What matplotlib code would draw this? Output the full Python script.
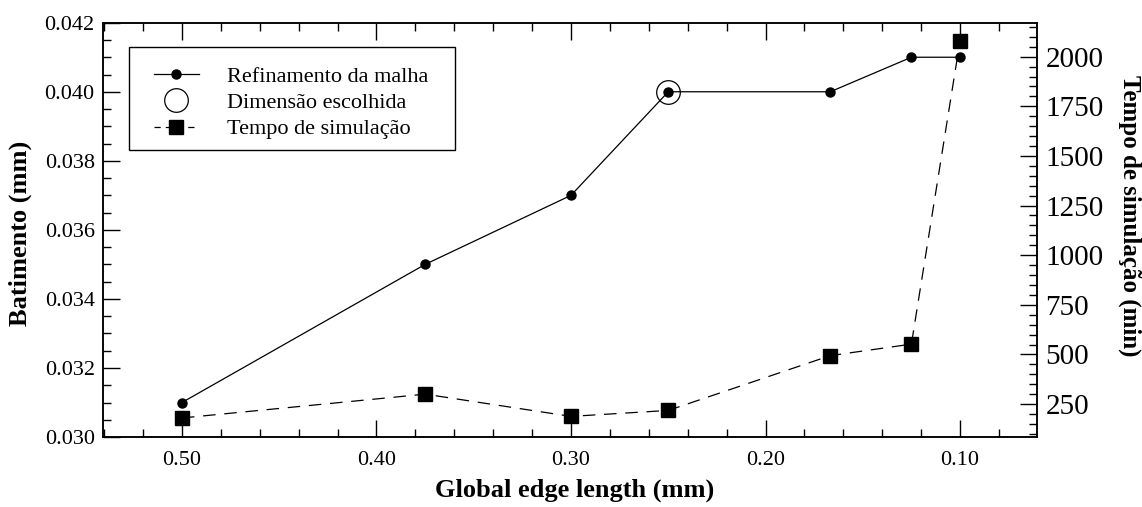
#!/usr/bin/env python3
"""
Mesh refinement study: displacement vs global edge length, with simulation time
on a secondary axis.
"""

import matplotlib
matplotlib.use("Agg")
import matplotlib.pyplot as plt
from matplotlib.ticker import MultipleLocator, FormatStrFormatter
from matplotlib.lines import Line2D
from matplotlib.patches import Rectangle

plt.rcParams['font.family'] = ['Liberation Serif', 'DejaVu Serif']
plt.rcParams['mathtext.fontset'] = 'stix'

# data
edge_len = [0.50, 0.375, 0.30, 0.25, 0.1667, 0.125, 0.10]
batimento = [0.031, 0.035, 0.037, 0.040, 0.040, 0.041, 0.041]
tempo = [180, 300, 188, 218, 494, 552, 2080]
chosen_x = [0.25]
chosen_y = [0.040]

fig = plt.figure(figsize=(11.42, 5.07), dpi=100)
ax = fig.add_axes([0.0902, 0.138, 0.8179, 0.8172])
ax2 = ax.twinx()

# main curve
ax.plot(edge_len, batimento, '-', color='black', linewidth=0.9,
        marker='o', markersize=6.5, zorder=3)
ax.plot(chosen_x, chosen_y, 'o', markersize=17, markerfacecolor='none',
        markeredgecolor='black', markeredgewidth=0.9, zorder=4)

# simulation time
ax2.plot(edge_len, tempo, '--', color='black', linewidth=0.9, dashes=(10, 7),
         marker='s', markersize=10, zorder=3)

ax.set_xlim(0.5406, 0.0604)
ax.set_ylim(0.030, 0.042)
ax2.set_ylim(84, 2171)

ax.xaxis.set_major_locator(MultipleLocator(0.1))
ax.xaxis.set_minor_locator(MultipleLocator(0.02))
ax.xaxis.set_major_formatter(FormatStrFormatter('%.2f'))
ax.yaxis.set_major_locator(MultipleLocator(0.002))
ax.yaxis.set_minor_locator(MultipleLocator(0.0005))
ax.yaxis.set_major_formatter(FormatStrFormatter('%.3f'))
ax2.yaxis.set_minor_locator(MultipleLocator(50))
ax2.set_yticks([250, 500, 750, 1000, 1250, 1500, 1750, 2000])

ax.tick_params(axis='x', which='both', direction='in', top=True, bottom=True,
               labelsize=16, pad=10)
ax.tick_params(axis='y', which='both', direction='in', left=True, right=False,
               labelsize=16, pad=6)
ax2.tick_params(axis='y', which='both', direction='in', right=True, left=False,
                labelsize=21, pad=6)
for a in (ax, ax2):
    a.tick_params(which='major', length=12, width=1.0)
    a.tick_params(which='minor', length=6, width=1.0)
    for s in a.spines.values():
        s.set_linewidth(1.1)

ax.set_xlabel('Global edge length (mm)', fontsize=19, fontweight='bold')
ax.xaxis.set_label_coords(0.5045, -0.100)
ax.set_ylabel('Batimento (mm)', fontsize=19, fontweight='bold')
ax.yaxis.set_label_coords(-0.076, 0.492)
ax2.set_ylabel('Tempo de simulação (min)', fontsize=18, fontweight='bold',
               rotation=270, va='center')
ax2.yaxis.set_label_coords(1.0996, 0.533)

# legend frame drawn separately so the padding can match the reference
ax2.add_patch(Rectangle((0.0278, 0.6927), 0.349, 0.2486, transform=ax.transAxes,
                        facecolor='white', edgecolor='black', linewidth=1.0,
                        zorder=9))

handles = [
    Line2D([], [], color='black', linewidth=0.9, marker='o', markersize=6.5),
    Line2D([], [], linestyle='none', marker='o', markersize=17,
           markerfacecolor='none', markeredgecolor='black', markeredgewidth=0.9),
    Line2D([], [], color='black', linewidth=0.9, dashes=(5, 4), marker='s',
           markersize=10),
]
labels = ['Refinamento da malha', 'Dimensão escolhida', 'Tempo de simulação']
leg = ax2.legend(handles, labels, loc='upper left',
                 bbox_to_anchor=(0.0396, 0.9292), bbox_transform=ax.transAxes,
                 fontsize=16, frameon=False, handlelength=2.0,
                 handletextpad=1.26, labelspacing=0.26, borderpad=0.64,
                 borderaxespad=0)
leg.set_zorder(10)

fig.savefig('out.png', dpi=100)
